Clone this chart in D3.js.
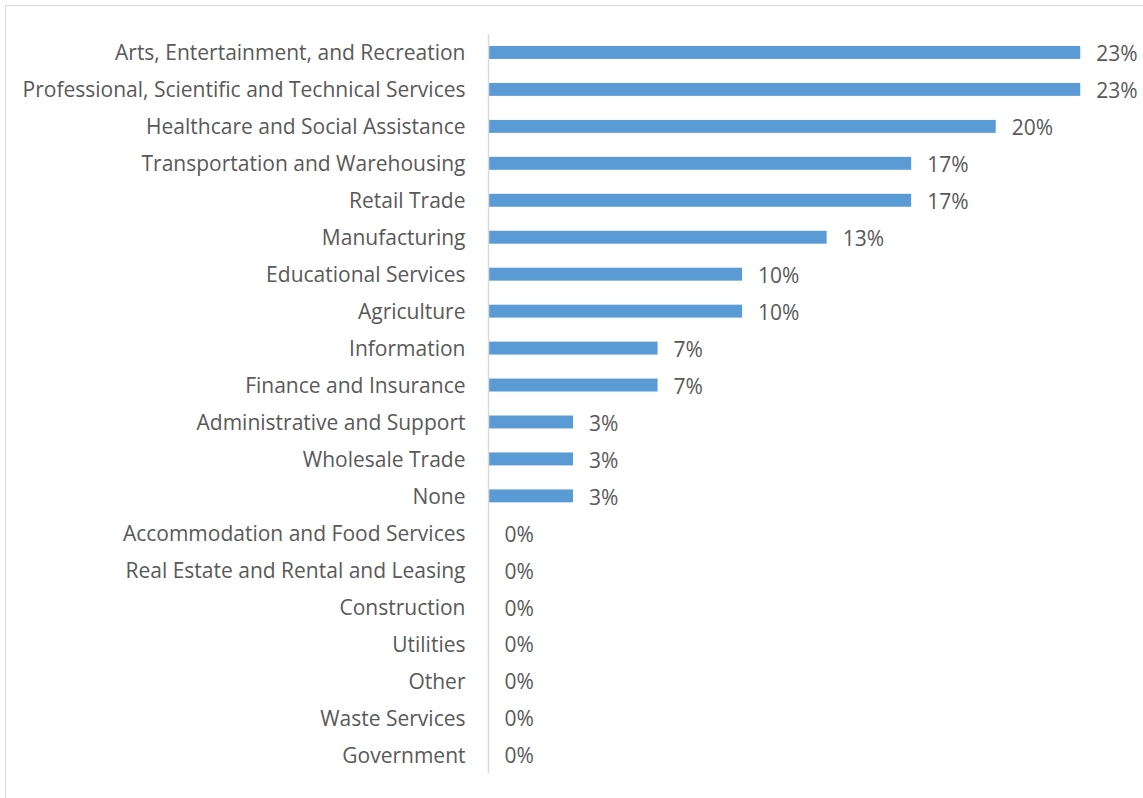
<!DOCTYPE html>
<html>
<head>
<meta charset="utf-8">
<script src="https://cdn.jsdelivr.net/npm/d3@7"></script>
<style>
  html, body { margin: 0; padding: 0; background: #fff; }
  svg { display: block; }
  text { font-family: "Open Sans", Lato, sans-serif; fill: #595959; }
</style>
</head>
<body>
<svg id="chart" width="1143" height="798"></svg>
<script>
// Share of respondents by industry (30 responses)
const categories = [
  "Arts, Entertainment, and Recreation",
  "Professional, Scientific and Technical Services",
  "Healthcare and Social Assistance",
  "Transportation and Warehousing",
  "Retail Trade",
  "Manufacturing",
  "Educational Services",
  "Agriculture",
  "Information",
  "Finance and Insurance",
  "Administrative and Support",
  "Wholesale Trade",
  "None",
  "Accommodation and Food Services",
  "Real Estate and Rental and Leasing",
  "Construction",
  "Utilities",
  "Other",
  "Waste Services",
  "Government"
];
const responses = [7, 7, 6, 5, 5, 4, 3, 3, 2, 2, 1, 1, 1, 0, 0, 0, 0, 0, 0, 0];
const totalResponses = 30;
const shares = responses.map(r => r / totalResponses);

const data = categories.map((c, i) => ({ category: c, share: shares[i] }));

const svg = d3.select("#chart");
const W = 1143, H = 798;
const FONT = 21;

// chart frame
svg.append("rect")
  .attr("x", 5.5).attr("y", 5.5)
  .attr("width", W).attr("height", H)
  .attr("fill", "none")
  .attr("stroke", "#d9d9d9")
  .attr("stroke-width", 1);

const axisX = 488.5;
const x = d3.scaleLinear().domain([0, 0.25]).range([axisX, axisX + 634]);
const y = d3.scaleBand().domain(categories).range([34, 773]).paddingInner(0.65).paddingOuter(0.325);

// bars
svg.append("g").selectAll("rect")
  .data(data)
  .join("rect")
  .attr("x", x(0))
  .attr("y", d => y(d.category))
  .attr("width", d => x(d.share) - x(0))
  .attr("height", y.bandwidth())
  .attr("fill", "#5b9bd5");

// category axis
const yAxis = d3.axisLeft(y).tickSize(0).tickPadding(23);
const gy = svg.append("g").attr("transform", `translate(${axisX},0)`).call(yAxis);
gy.select(".domain").attr("stroke", "#d9d9d9").attr("stroke-width", 1.5)
  .attr("d", "M0,34V773");
gy.selectAll("text")
  .attr("font-family", "'Open Sans', Lato, sans-serif")
  .attr("font-size", FONT)
  .attr("fill", "#595959")
  .attr("dy", "0.38em");

// value labels
const fmt = d3.format(".0%");
svg.append("g").selectAll("text")
  .data(data)
  .join("text")
  .attr("x", d => x(d.share) + 16)
  .attr("y", d => y(d.category) + y.bandwidth() / 2)
  .attr("dy", "0.42em")
  .attr("font-size", FONT)
  .text(d => fmt(d.share));
</script>
</body>
</html>
